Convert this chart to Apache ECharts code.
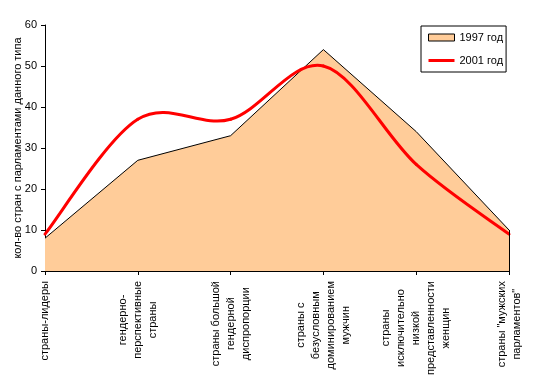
<!DOCTYPE html>
<html>
<head>
<meta charset="utf-8">
<script src="https://cdn.jsdelivr.net/npm/echarts@6/dist/echarts.min.js"></script>
<style>html,body{margin:0;padding:0;background:#fff}#c{width:554px;height:384px}</style>
</head>
<body>
<div id="c"></div>
<script>
var categories = [
  'страны-лидеры',
  'гендерно-\nперспективные\nстраны',
  'страны большой\nгендерной\nдиспропорции',
  'страны с\nбезусловным\nдоминированием\nмужчин',
  'страны\nисключительно\nнизкой\nпредставленности\nженщин',
  'страны "мужских\nпарламентов"'
];
var seriesNames = ['1997 год', '2001 год'];
var values1997 = [8, 27, 33, 54, 34, 10];
var values2001 = [9, 37, 37, 50, 26, 9];
var yTicks = [0, 10, 20, 30, 40, 50, 60];
var yAxisTitle = 'кол-во стран с парламентами данного типа';

var FONT = '"Liberation Sans", Arial, sans-serif';
var chart = echarts.init(document.getElementById('c'));
var last = categories.length - 1;

// Excel-style smoothed line: cubic Bezier through the data points, drawn via the axis scales
function renderSmooth(params, api) {
  if (params.dataIndex !== 0) return null;
  var n = values2001.length;
  var P = [];
  for (var i = 0; i < n; i++) P.push(api.coord([i, values2001[i]]));
  var children = [];
  for (var k = 0; k < n - 1; k++) {
    var p0 = P[Math.max(k - 1, 0)], p1 = P[k], p2 = P[k + 1], p3 = P[Math.min(k + 2, n - 1)];
    children.push({
      type: 'bezierCurve',
      shape: {
        x1: p1[0], y1: p1[1], x2: p2[0], y2: p2[1],
        cpx1: p1[0] + (p2[0] - p0[0]) / 6, cpy1: p1[1] + (p2[1] - p0[1]) / 6,
        cpx2: p2[0] - (p3[0] - p1[0]) / 6, cpy2: p2[1] - (p3[1] - p1[1]) / 6
      },
      style: { fill: null, stroke: '#FF0000', lineWidth: 3, lineCap: 'round' }
    });
  }
  return { type: 'group', children: children };
}

chart.setOption({
  animation: false,
  backgroundColor: '#ffffff',
  grid: { left: 45, right: 45, top: 25, bottom: 113, containLabel: false, outerBoundsMode: 'none' },
  legend: {
    orient: 'vertical',
    left: 421, top: 26,
    borderColor: '#000', borderWidth: 1,
    padding: [6, 3, 6, 7],
    itemGap: 12,
    itemWidth: 26, itemHeight: 7,
    itemTextGap: 4,
    textStyle: { fontFamily: FONT, fontSize: 11, color: '#000' },
    data: [
      { name: seriesNames[0], icon: 'rect', itemStyle: { color: '#FFCC99', borderColor: '#000', borderWidth: 1 } },
      { name: seriesNames[1], icon: 'path://M0,0M26,7M0,2H26V5H0Z', itemStyle: { color: '#FF0000', borderWidth: 0 } }
    ]
  },
  xAxis: {
    type: 'category',
    data: categories,
    boundaryGap: false,
    axisLine: { lineStyle: { color: '#000', width: 1 } },
    axisTick: { alignWithLabel: true, length: 4, lineStyle: { color: '#000' } },
    axisLabel: {
      rotate: 90, interval: 0, margin: 10,
      fontFamily: FONT, fontSize: 11, color: '#000',
      formatter: function (v) { return v.split('\n').map(function (s) { return '{c|' + s + '}'; }).join('\n'); },
      rich: { c: { align: 'center', fontFamily: FONT, fontSize: 11, color: '#000', lineHeight: 15 } }
    }
  },
  yAxis: {
    type: 'value', min: yTicks[0], max: yTicks[yTicks.length - 1], interval: 10,
    name: yAxisTitle, nameLocation: 'middle', nameRotate: 90, nameGap: 22, nameMoveOverlap: false,
    nameTextStyle: { fontFamily: FONT, fontSize: 11, color: '#000' },
    axisLine: { show: true, lineStyle: { color: '#000', width: 1 } },
    axisTick: { show: true, length: 4, lineStyle: { color: '#000' } },
    axisLabel: { fontFamily: FONT, fontSize: 11, color: '#000', margin: 8 },
    splitLine: { show: false }
  },
  series: [
    {
      name: seriesNames[0], type: 'line', data: values1997,
      symbol: 'none',
      lineStyle: { color: '#000', width: 1 },
      itemStyle: { color: '#FFCC99' },
      areaStyle: { color: '#FFCC99', opacity: 1 },
      z: 2,
      markLine: {
        silent: true, symbol: 'none', label: { show: false },
        lineStyle: { color: '#000', width: 1, type: 'solid' },
        data: [[{ coord: [categories[last], 0] }, { coord: [categories[last], values1997[last]] }]]
      }
    },
    {
      name: seriesNames[1], type: 'custom',
      data: values2001.map(function (v, i) { return [i, v]; }),
      encode: { x: 0, y: 1 },
      renderItem: renderSmooth,
      itemStyle: { color: '#FF0000' },
      z: 3
    }
  ]
});
</script>
</body>
</html>
